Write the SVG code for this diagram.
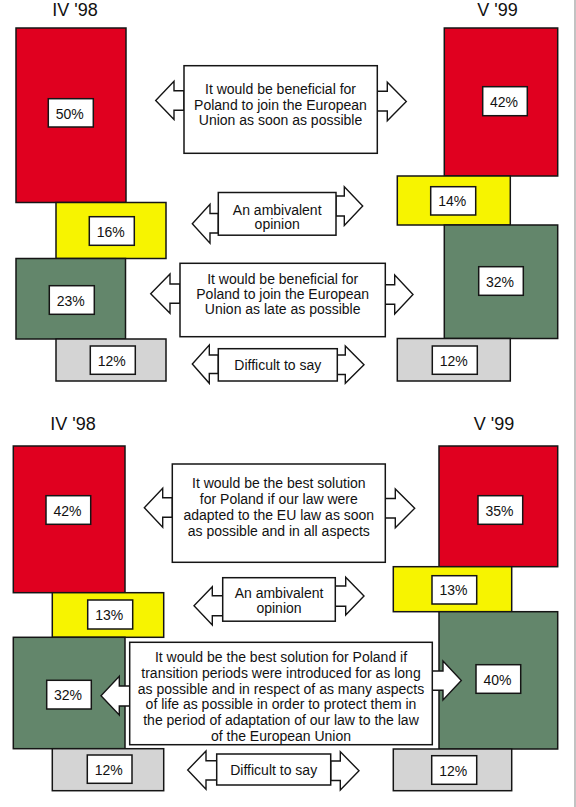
<svg xmlns="http://www.w3.org/2000/svg" width="576" height="807" viewBox="0 0 576 807">
<style>
text{font-family:"Liberation Sans",Arial,sans-serif;fill:#111;}
.t{font-size:18px;text-anchor:middle;}
.b{font-size:14px;text-anchor:middle;}
.p{font-size:14px;text-anchor:middle;}
.bar{stroke:#151515;stroke-width:1.5;}
.red{fill:#E0001F;}
.yel{fill:#F7F400;}
.grn{fill:#63866B;}
.gry{fill:#D4D4D4;}
.lab{fill:#fff;stroke:#151515;stroke-width:1.5;}
.box{fill:#fff;stroke:#151515;stroke-width:1.5;}
.arr{fill:#fff;stroke:#151515;stroke-width:1.4;stroke-linejoin:miter;}
</style>
<rect x="0" y="0" width="576" height="807" fill="#fff"/>
<line x1="575" y1="0" x2="575" y2="807" stroke="#9a9a9a" stroke-width="1.2"/>

<!-- Titles -->
<g id="titles">
<text class="t" x="75" y="16">IV '98</text>
<text class="t" x="497.5" y="16">V '99</text>
<text class="t" x="73" y="430">IV '98</text>
<text class="t" x="494" y="430">V '99</text>
</g>

<!-- Top left bars -->
<g id="tl-red"><rect class="bar red" x="16" y="28" width="110" height="174.5"/><rect class="lab" x="48.3" y="98.7" width="45" height="28.3"/><text class="p" x="69.8" y="118.5">50%</text></g>
<g id="tl-yellow"><rect class="bar yel" x="56" y="202.5" width="110" height="56"/><rect class="lab" x="89.3" y="216.7" width="45" height="28.6"/><text class="p" x="110.8" y="236.5">16%</text></g>
<g id="tl-green"><rect class="bar grn" x="16" y="258.5" width="109.5" height="80.5"/><rect class="lab" x="49.3" y="285.7" width="45" height="28.6"/><text class="p" x="70.8" y="305.5">23%</text></g>
<g id="tl-gray"><rect class="bar gry" x="56" y="339" width="110" height="42"/><rect class="lab" x="90.3" y="346" width="45" height="28.3"/><text class="p" x="111.8" y="365.5">12%</text></g>

<!-- Top right bars -->
<g id="tr-red"><rect class="bar red" x="444.3" y="28" width="113.4" height="148"/><rect class="lab" x="482.7" y="86.7" width="44.6" height="29"/><text class="p" x="504" y="106.5">42%</text></g>
<g id="tr-yellow"><rect class="bar yel" x="397.3" y="176" width="113" height="49"/><rect class="lab" x="430.7" y="186.7" width="45" height="28.3"/><text class="p" x="452.2" y="206">14%</text></g>
<g id="tr-green"><rect class="bar grn" x="444.3" y="225" width="113.4" height="113.5"/><rect class="lab" x="478.7" y="266.7" width="44.6" height="28.6"/><text class="p" x="500" y="286.5">32%</text></g>
<g id="tr-gray"><rect class="bar gry" x="397.3" y="338.5" width="113" height="42.5"/><rect class="lab" x="432.3" y="346" width="45" height="28.3"/><text class="p" x="453.8" y="365.5">12%</text></g>

<!-- Bottom left bars -->
<g id="bl-red"><rect class="bar red" x="13.3" y="446" width="111.7" height="146.7"/><rect class="lab" x="46" y="495.7" width="44.7" height="28.6"/><text class="p" x="67.4" y="515.5">42%</text></g>
<g id="bl-yellow"><rect class="bar yel" x="52.3" y="592.7" width="111.4" height="44.6"/><rect class="lab" x="87.7" y="600" width="45" height="29"/><text class="p" x="109.2" y="620">13%</text></g>
<g id="bl-green"><rect class="bar grn" x="13.3" y="637.3" width="111.7" height="111.4"/><rect class="lab" x="46.7" y="680.3" width="44.6" height="28.7"/><text class="p" x="68" y="700">32%</text></g>
<g id="bl-gray"><rect class="bar gry" x="52.3" y="748.7" width="111.4" height="42"/><rect class="lab" x="87.3" y="755" width="44.7" height="28.3"/><text class="p" x="108.7" y="774.5">12%</text></g>

<!-- Bottom right bars -->
<g id="br-red"><rect class="bar red" x="439" y="446" width="118.7" height="120.7"/><rect class="lab" x="478" y="495.7" width="44.7" height="28.6"/><text class="p" x="499.4" y="515.5">35%</text></g>
<g id="br-yellow"><rect class="bar yel" x="393.3" y="566.7" width="118.4" height="45"/><rect class="lab" x="432" y="575.7" width="44.7" height="28.3"/><text class="p" x="453.4" y="595">13%</text></g>
<g id="br-green"><rect class="bar grn" x="439" y="611.7" width="118.7" height="137.3"/><rect class="lab" x="476" y="664.7" width="44.7" height="28.6"/><text class="p" x="497.4" y="684.5">40%</text></g>
<g id="br-gray"><rect class="bar gry" x="393.3" y="749" width="118.4" height="41.7"/><rect class="lab" x="431.7" y="755.7" width="45" height="28.6"/><text class="p" x="453.2" y="775.5">12%</text></g>

<!-- Connectors (block arrows) -->
<g id="connectors">
<path class="arr" d="M184,90.7 L174,90.7 L174,81.3 L155.7,100.5 L174,119.5 L174,110.3 L184,110.3 Z"/>
<path class="arr" d="M377,91.3 L387.3,91.3 L387.3,82.3 L406.3,101.5 L387.3,120.7 L387.3,111 L377,111 Z"/>
<path class="arr" d="M218.3,213.5 L210,213.5 L210,204.3 L192.3,223.7 L210,243.3 L210,233 L218.3,233 Z"/>
<path class="arr" d="M336,196 L344.3,196 L344.3,186.7 L362.7,206 L344.3,225.5 L344.3,216 L336,216 Z"/>
<path class="arr" d="M180,284 L170,284 L170,274 L150.7,293.7 L170,313.3 L170,303.3 L180,303.3 Z"/>
<path class="arr" d="M385.3,284.7 L394.7,284.7 L394.7,275 L413,294.5 L394.7,314 L394.7,304.3 L385.3,304.3 Z"/>
<path class="arr" d="M218.3,355 L209.3,355 L209.3,345 L192.3,364 L209.3,383.3 L209.3,373.5 L218.3,373.5 Z"/>
<path class="arr" d="M337.3,355 L345.3,355 L345.3,346 L364,364.7 L345.3,383.3 L345.3,374.5 L337.3,374.5 Z"/>

<path class="arr" d="M172.3,497.7 L162.7,497.7 L162.7,488.3 L144.3,507.7 L162.7,527.3 L162.7,517.3 L172.3,517.3 Z"/>
<path class="arr" d="M385.3,498.5 L395.3,498.5 L395.3,489 L414.7,508.3 L395.3,527.7 L395.3,518 L385.3,518 Z"/>
<path class="arr" d="M222.7,595.7 L212.3,595.7 L212.3,586.7 L194,605.8 L212.3,625 L212.3,615.7 L222.7,615.7 Z"/>
<path class="arr" d="M335.3,586 L345.7,586 L345.7,577.2 L364,596 L345.7,615 L345.7,606.2 L335.3,606.2 Z"/>
<path class="arr" d="M129.7,686 L119.3,686 L119.3,676.3 L101,695.8 L119.3,715 L119.3,706 L129.7,706 Z"/>
<path class="arr" d="M432.3,671 L443,671 L443,661 L461.3,680.6 L443,700 L443,690.3 L432.3,690.3 Z"/>
<path class="arr" d="M216.7,760.7 L206,760.7 L206,751 L187.7,770 L206,789.3 L206,780 L216.7,780 Z"/>
<path class="arr" d="M330.7,761 L340.3,761 L340.3,751.7 L359,770.8 L340.3,790 L340.3,780.5 L330.7,780.5 Z"/>
</g>

<!-- Text boxes -->
<g id="q1-soon">
<rect class="box" x="184" y="65.7" width="193.3" height="87.6"/>
<text class="b" x="280.5" y="94">It would be beneficial for</text>
<text class="b" x="280.5" y="109.5">Poland to join the European</text>
<text class="b" x="280.5" y="125">Union as soon as possible</text>
</g>
<g id="q1-ambivalent">
<rect class="box" x="218.3" y="192.5" width="117.7" height="42.7"/>
<text class="b" x="277.2" y="214.5">An ambivalent</text>
<text class="b" x="277.2" y="229">opinion</text>
</g>
<g id="q1-late">
<rect class="box" x="180" y="263.3" width="205.3" height="73.4"/>
<text class="b" x="282.7" y="283.5">It would be beneficial for</text>
<text class="b" x="282.7" y="298.5">Poland to join the European</text>
<text class="b" x="282.7" y="313.5">Union as late as possible</text>
</g>
<g id="q1-difficult">
<rect class="box" x="218.3" y="348.7" width="119" height="32.3"/>
<text class="b" x="277.8" y="370">Difficult to say</text>
</g>

<g id="q2-soon">
<rect class="box" x="172.3" y="464" width="213" height="98.3"/>
<text class="b" x="278.8" y="488">It would be the best solution</text>
<text class="b" x="278.8" y="504">for Poland if our law were</text>
<text class="b" x="278.8" y="520">adapted to the EU law as soon</text>
<text class="b" x="278.8" y="535.5">as possible and in all aspects</text>
</g>
<g id="q2-ambivalent">
<rect class="box" x="222.7" y="577.7" width="112.6" height="43.5"/>
<text class="b" x="279" y="598">An ambivalent</text>
<text class="b" x="279" y="612.5">opinion</text>
</g>
<g id="q2-transition">
<rect class="box" x="129.7" y="642.3" width="302.6" height="102.4"/>
<text class="b" x="281" y="662">It would be the best solution for Poland if</text>
<text class="b" x="281" y="677.5">transition periods were introduced for as long</text>
<text class="b" x="281" y="693.5">as possible and in respect of as many aspects</text>
<text class="b" x="281" y="709">of life as possible in order to protect them in</text>
<text class="b" x="281" y="725">the period of adaptation of our law to the law</text>
<text class="b" x="281" y="740.5">of the European Union</text>
</g>
<g id="q2-difficult">
<rect class="box" x="216.7" y="754" width="114" height="31"/>
<text class="b" x="273.7" y="775">Difficult to say</text>
</g>
</svg>
